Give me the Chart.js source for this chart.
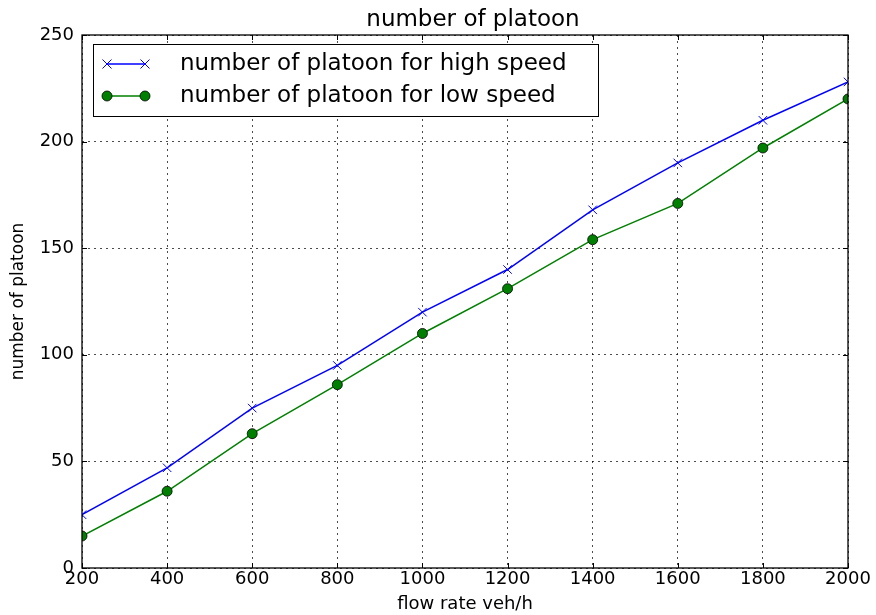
<!DOCTYPE html>
<html>
<head>
<meta charset="utf-8">
<script src="https://cdn.jsdelivr.net/npm/chart.js@4/dist/chart.umd.min.js"></script>
<style>
html,body{margin:0;padding:0;background:#fff;}
#wrap{width:876px;height:615px;}
</style>
</head>
<body>
<div id="wrap"><canvas id="c" width="876" height="615"></canvas></div>
<script>
const chartTitle = "number of platoon";
const xLabel = "flow rate veh/h";
const yLabel = "number of platoon";
const flowRates = [200, 400, 600, 800, 1000, 1200, 1400, 1600, 1800, 2000];
const highSpeed = [25, 47, 75, 95, 120, 140, 168, 190, 210, 228];
const lowSpeed = [15, 36, 63, 86, 110, 131, 154, 171, 197, 220];
const highLabel = "number of platoon for high speed";
const lowLabel = "number of platoon for low speed";

const FONT = "'DejaVu Sans', sans-serif";

function pts(xs, ys){ return xs.map((x,i)=>({x:x, y:ys[i]})); }

function drawX(ctx, x, y, r){
  ctx.beginPath();
  ctx.moveTo(x-r,y-r); ctx.lineTo(x+r,y+r);
  ctx.moveTo(x-r,y+r); ctx.lineTo(x+r,y-r);
  ctx.stroke();
}
function drawDot(ctx, x, y, r, fill){
  ctx.beginPath();
  ctx.arc(x,y,r,0,Math.PI*2);
  ctx.fillStyle = fill; ctx.fill();
  ctx.lineWidth = 0.8; ctx.strokeStyle = '#000'; ctx.stroke();
}

const framePlugin = {
  id: 'frame',
  afterDraw(chart){
    const ctx = chart.ctx;
    const a = chart.chartArea;
    ctx.save();
    ctx.strokeStyle = '#000';
    ctx.lineWidth = 1.3;
    ctx.setLineDash([]);
    ctx.strokeRect(a.left, a.top, a.right-a.left, a.bottom-a.top);
    ctx.lineWidth = 1;
    const tl = 5;
    const xs = chart.scales.x, ys = chart.scales.y;
    xs.ticks.forEach(t=>{
      const px = Math.round(xs.getPixelForValue(t.value))+0.5;
      ctx.beginPath();
      ctx.moveTo(px, a.bottom); ctx.lineTo(px, a.bottom-tl);
      ctx.moveTo(px, a.top); ctx.lineTo(px, a.top+tl);
      ctx.stroke();
    });
    ys.ticks.forEach(t=>{
      const py = Math.round(ys.getPixelForValue(t.value))+0.5;
      ctx.beginPath();
      ctx.moveTo(a.left, py); ctx.lineTo(a.left+tl, py);
      ctx.moveTo(a.right, py); ctx.lineTo(a.right-tl, py);
      ctx.stroke();
    });
    ctx.fillStyle = '#000';
    ctx.font = "23px " + FONT;
    ctx.textAlign = 'center';
    ctx.textBaseline = 'middle';
    ctx.fillText(chartTitle, 473, 20);
    const bx = 93, by = 44, bw = 505, bh = 72;
    ctx.fillStyle = '#fff';
    ctx.fillRect(bx, by, bw, bh);
    ctx.lineWidth = 1;
    ctx.strokeStyle = '#000';
    ctx.strokeRect(bx+0.5, by+0.5, bw, bh);
    const rows = [64, 96];
    chart.data.datasets.forEach((ds, i)=>{
      const yy = rows[i];
      const x1 = 107, x2 = 145;
      ctx.strokeStyle = ds.borderColor;
      ctx.lineWidth = 1.5;
      ctx.beginPath(); ctx.moveTo(x1, yy); ctx.lineTo(x2, yy); ctx.stroke();
      if (ds.pointStyle === 'cross'){
        ctx.lineWidth = 1;
        drawX(ctx, x1, yy, 4.5); drawX(ctx, x2, yy, 4.5);
      } else {
        drawDot(ctx, x1, yy, 5, ds.pointBackgroundColor);
        drawDot(ctx, x2, yy, 5, ds.pointBackgroundColor);
      }
      ctx.fillStyle = '#000';
      ctx.font = "23px " + FONT;
      ctx.textAlign = 'left';
      ctx.textBaseline = 'middle';
      ctx.fillText(ds.label, 180, yy);
    });
    ctx.restore();
  }
};

new Chart(document.getElementById('c'), {
  type: 'line',
  data: {
    datasets: [
      {
        label: highLabel,
        data: pts(flowRates, highSpeed),
        borderColor: '#0000ff',
        backgroundColor: '#0000ff',
        borderWidth: 1.5,
        pointStyle: 'cross',
        rotation: 45,
        pointRadius: 6,
        pointBorderWidth: 1,
        pointBorderColor: '#0000ff',
        tension: 0,
        fill: false,
        clip: 0
      },
      {
        label: lowLabel,
        data: pts(flowRates, lowSpeed),
        borderColor: '#008000',
        backgroundColor: '#008000',
        pointBackgroundColor: '#008000',
        pointBorderColor: '#000000',
        pointBorderWidth: 0.8,
        borderWidth: 1.5,
        pointStyle: 'circle',
        pointRadius: 5,
        tension: 0,
        fill: false,
        clip: 0
      }
    ]
  },
  options: {
    responsive: false,
    animation: false,
    devicePixelRatio: 1,
    layout: { padding: { top: 35, right: 28, left: 0, bottom: 0 } },
    plugins: {
      legend: { display: false },
      title: { display: false },
      tooltip: { enabled: false }
    },
    scales: {
      x: {
        type: 'linear',
        min: 200, max: 2000,
        ticks: { stepSize: 200, color: '#000', font: { family: FONT, size: 18 }, padding: 1, maxRotation: 0,
                 callback: (v)=>String(v) },
        grid: { color: 'rgba(0,0,0,0.7)', lineWidth: 1, drawTicks: false },
        border: { display: false, dash: [2, 4] },
        title: { display: true, text: xLabel, color: '#000', font: { family: FONT, size: 18 }, padding: { top: 0, bottom: 0 } },
        afterFit(s){ s.height = 47; }
      },
      y: {
        min: 0, max: 250,
        ticks: { stepSize: 50, color: '#000', font: { family: FONT, size: 18 }, padding: 8,
                 callback: (v)=>String(v) },
        grid: { color: 'rgba(0,0,0,0.7)', lineWidth: 1, drawTicks: false },
        border: { display: false, dash: [2, 4] },
        title: { display: true, text: yLabel, color: '#000', font: { family: FONT, size: 17 }, padding: { top: 8, bottom: 0 } },
        afterFit(s){ s.width = 82; }
      }
    }
  },
  plugins: [framePlugin]
});
</script>
</body>
</html>
